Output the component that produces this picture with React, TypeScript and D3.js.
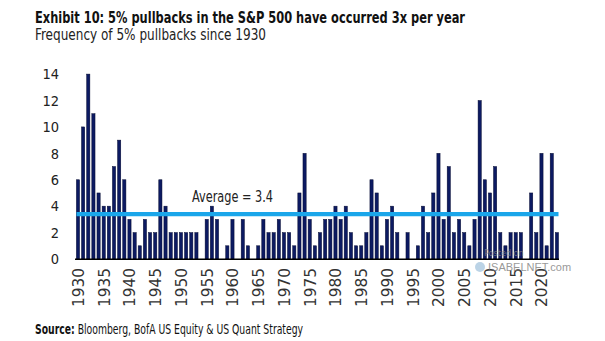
import React, { useLayoutEffect, useRef, useState } from "react";
import * as d3 from "d3";

const years: number[] = d3.range(1930, 2024);
const counts: number[] = [
  6, 10, 14, 11, 5, 4, 4, 7, 9, 6, // 1930-1939
  3, 2, 1, 3, 2, 2, 6, 4, 2, 2, // 1940-1949
  2, 2, 2, 2, 0, 3, 4, 3, 0, 1, // 1950-1959
  3, 0, 3, 1, 0, 1, 3, 2, 2, 3, // 1960-1969
  2, 2, 1, 5, 8, 3, 1, 2, 3, 3, // 1970-1979
  4, 3, 4, 2, 1, 1, 2, 6, 5, 1, // 1980-1989
  3, 4, 2, 0, 2, 0, 1, 4, 2, 5, // 1990-1999
  8, 3, 7, 2, 3, 2, 1, 3, 12, 6, // 2000-2009
  5, 7, 2, 1, 2, 2, 2, 0, 5, 2, // 2010-2019
  8, 1, 8, 2, // 2020-2023
];
const average = 3.4;
const yTicks: number[] = [0, 2, 4, 6, 8, 10, 12, 14];
const xTickYears: number[] = d3.range(1930, 2021, 5);

const title = "Exhibit 10: 5% pullbacks in the S&P 500 have occurred 3x per year";
const subtitle = "Frequency of 5% pullbacks since 1930";
const avgLabel = "Average = 3.4";
const sourceLabel = "Source:";
const sourceText = " Bloomberg, BofA US Equity & US Quant Strategy";

const W = 605;
const H = 341;
const FONT = "'Liberation Sans Narrow', 'DejaVu Sans Condensed', 'Liberation Sans', sans-serif";

export default function App() {
  const srcRef = useRef<SVGTextElement | null>(null);
  const [srcScale, setSrcScale] = useState(0.75);
  useLayoutEffect(() => {
    if (srcRef.current) {
      const w = srcRef.current.getComputedTextLength();
      if (w > 0) setSrcScale(268 / w);
    }
  }, []);

  const x = d3
    .scaleBand<number>()
    .domain(years)
    .range([75.4, 559.5])
    .paddingInner(0.38)
    .paddingOuter(0.19);
  const y = d3.scaleLinear().domain([0, 14]).range([259, 74.1]);
  const bw = x.bandwidth();
  const x0 = 75;
  const x1 = 559;

  return (
    <svg
      width={W}
      height={H}
      style={{ position: "absolute", left: 0, top: 0, background: "#fff" }}
      fontFamily={FONT}
    >
      <rect x={0} y={0} width={W} height={H} fill="#fff" />
      <text x={35} y={22.5} fontSize={16.5} fontWeight="bold" fill="#111" textLength={430} lengthAdjust="spacingAndGlyphs">
        {title}
      </text>
      <text x={35} y={39.5} fontSize={15} fill="#222" textLength={231} lengthAdjust="spacingAndGlyphs">
        {subtitle}
      </text>

      {/* y axis labels */}
      {yTicks.map((t) => (
        <text key={t} x={59} y={y(t)} dy="0.36em" textAnchor="end" fontSize={14.5} fill="#222">
          {t}
        </text>
      ))}

      {/* bars */}
      {years.map((yr, i) =>
        counts[i] > 0 ? (
          <rect
            key={yr}
            x={x(yr)}
            y={y(counts[i])}
            width={bw}
            height={y(0) - y(counts[i])}
            fill="#0c1a62"
            stroke="#050a30"
            strokeWidth={0.5}
          />
        ) : null
      )}

      {/* baseline */}
      <line x1={x0} x2={x1} y1={259.3} y2={259.3} stroke="#000" strokeWidth={1.6} />

      {/* average line */}
      <line x1={76.5} x2={558.5} y1={y(average)} y2={y(average)} stroke="#1aa6ea" strokeWidth={4.2} />
      <text x={192} y={201.5} fontSize={15} fill="#222" textLength={81} lengthAdjust="spacingAndGlyphs">
        {avgLabel}
      </text>

      {/* x axis labels */}
      {xTickYears.map((yr) => {
        const cx = (x(yr) as number) + bw / 2;
        return (
          <text
            key={yr}
            transform={`translate(${cx + 0.5},268) rotate(-90)`}
            textAnchor="end"
            dy="0.36em"
            fontSize={15}
            fill="#333"
            textLength={39}
            lengthAdjust="spacingAndGlyphs"
          >
            {yr}
          </text>
        );
      })}

      {/* watermark */}
      <g opacity={0.75}>
        <text x={484} y={256} fontSize={9} fill="#888">Posted on</text>
        <circle cx={480} cy={267} r={5} fill="#8fb6d6" opacity={0.8} />
        <text x={488} y={271} fontSize={11} fill="#777" fontFamily="'Liberation Sans', Arial, sans-serif">
          ISABELNET.com
        </text>
      </g>

      {/* source */}
      <g transform={`translate(35,334) scale(${srcScale},1)`}>
        <text ref={srcRef} x={0} y={0} fontSize={14} fill="#111">
          <tspan fontWeight="bold">{sourceLabel}</tspan>
          <tspan>{sourceText}</tspan>
        </text>
      </g>
    </svg>
  );
}
